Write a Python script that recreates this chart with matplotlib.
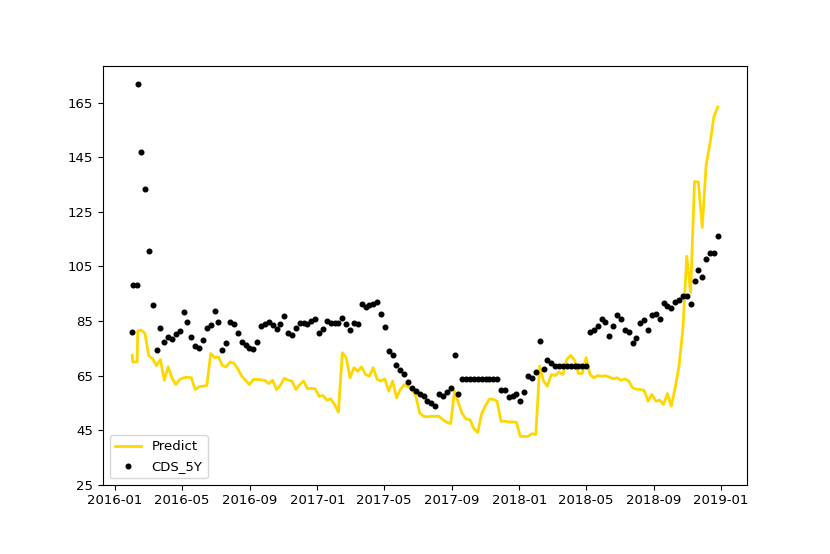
import matplotlib
matplotlib.use('Agg')
import matplotlib.pyplot as plt
import matplotlib.dates as mdates
import pandas as pd

# first few observations are irregular, then weekly
early_dates = ['2016-02-01', '2016-02-02', '2016-02-10', '2016-02-11']
weekly_start = '2016-02-17'
n_weekly = 150

cds_5y = [
    81.0, 98.1, 98.1, 172.0, 147.0, 133.4, 110.7, 90.8, 74.3, 82.6,
    77.2, 79.3, 78.5, 80.1, 81.3, 88.2, 84.8, 79.3, 75.8, 75.0,
    77.9, 82.4, 83.4, 88.6, 84.5, 74.3, 77.1, 84.8, 83.8, 80.7,
    77.4, 76.2, 75.2, 74.9, 77.4, 83.2, 83.8, 84.6, 83.4, 82.2,
    84.0, 86.8, 80.7, 79.8, 82.6, 84.4, 84.2, 84.0, 85.0, 85.6,
    80.7, 82.0, 85.0, 84.4, 84.2, 84.2, 86.0, 84.0, 81.7, 84.4,
    83.8, 91.1, 90.3, 90.8, 91.1, 91.8, 87.5, 82.8, 74.0, 72.4,
    68.7, 67.0, 65.4, 62.6, 60.5, 59.3, 58.1, 57.4, 55.8, 55.0,
    53.8, 58.3, 57.4, 59.1, 60.5, 72.4, 58.1, 63.8, 63.8, 63.8,
    63.8, 63.8, 63.8, 63.8, 63.8, 63.8, 63.8, 59.6, 59.6, 57.2,
    57.4, 58.1, 55.6, 58.9, 65.0, 64.2, 66.3, 77.7, 67.5, 70.7,
    69.7, 68.5, 68.5, 68.5, 68.5, 68.5, 68.5, 68.5, 68.5, 68.5,
    81.0, 81.6, 83.2, 85.9, 84.8, 79.5, 83.0, 87.2, 85.6, 81.8,
    80.8, 76.8, 78.9, 84.2, 85.4, 81.7, 87.2, 87.7, 85.9, 91.5,
    90.5, 89.6, 92.1, 92.6, 94.0, 94.0, 91.4, 99.5, 103.6, 101.3,
    107.9, 109.9, 109.9, 116.1,
]

predict = [
    72.4, 70.0, 70.0, 81.3, 81.7, 80.5, 72.2, 71.2, 68.7, 70.9,
    63.3, 68.2, 64.0, 61.7, 63.6, 64.2, 64.4, 64.2, 59.9, 60.9,
    61.1, 61.4, 73.1, 71.6, 71.8, 68.7, 68.2, 70.0, 69.5, 67.5,
    64.8, 63.3, 61.7, 63.6, 63.6, 63.5, 63.2, 62.1, 63.3, 59.9,
    61.4, 64.0, 63.3, 63.0, 59.9, 61.7, 63.0, 60.2, 60.3, 60.2,
    57.4, 57.7, 56.0, 56.5, 54.4, 51.6, 73.4, 71.6, 64.2, 67.9,
    66.6, 68.2, 65.4, 64.8, 67.9, 63.6, 63.0, 63.8, 59.3, 63.0,
    56.9, 59.9, 61.7, 60.9, 59.9, 57.4, 51.3, 50.1, 49.9, 50.1,
    50.1, 50.1, 48.8, 47.9, 47.4, 59.3, 55.0, 51.0, 49.1, 48.8,
    45.5, 44.2, 51.0, 54.0, 56.4, 56.3, 55.6, 48.3, 48.3, 48.0,
    48.0, 47.9, 42.7, 42.7, 42.7, 43.7, 43.4, 68.5, 63.0, 61.1,
    65.4, 65.0, 66.3, 65.4, 70.9, 72.4, 70.7, 65.8, 65.8, 71.6,
    65.4, 64.2, 65.0, 64.8, 64.9, 64.5, 63.8, 64.2, 63.3, 63.8,
    63.0, 60.5, 60.0, 59.9, 59.6, 55.6, 58.1, 55.6, 56.0, 54.4,
    58.4, 53.8, 60.5, 68.5, 82.0, 108.7, 95.4, 136.1, 135.9, 119.3,
    142.0, 150.0, 159.7, 163.4,
]

yticks = [25, 45, 65, 85, 105, 125, 145, 165]

dates = pd.to_datetime(early_dates).append(
    pd.date_range(weekly_start, periods=n_weekly, freq='7D'))

fig = plt.figure(figsize=(8.3, 5.54), dpi=100)
ax = fig.add_subplot(111)
fig.subplots_adjust(left=0.124, right=0.9, top=0.881, bottom=0.125)

ax.plot(dates, predict, color='gold', linewidth=2, label='Predict')
ax.scatter(dates, cds_5y, color='black', s=11, label='CDS_5Y', zorder=3)

ax.set_ylim(bottom=25)
ax.set_yticks(yticks)
ax.xaxis.set_major_locator(mdates.MonthLocator(bymonth=[1, 5, 9]))
ax.xaxis.set_major_formatter(mdates.DateFormatter('%Y-%m'))
ax.tick_params(labelsize=9.5)

ax.legend(loc='lower left', fontsize=9.5)

fig.savefig('out.png', dpi=100)
